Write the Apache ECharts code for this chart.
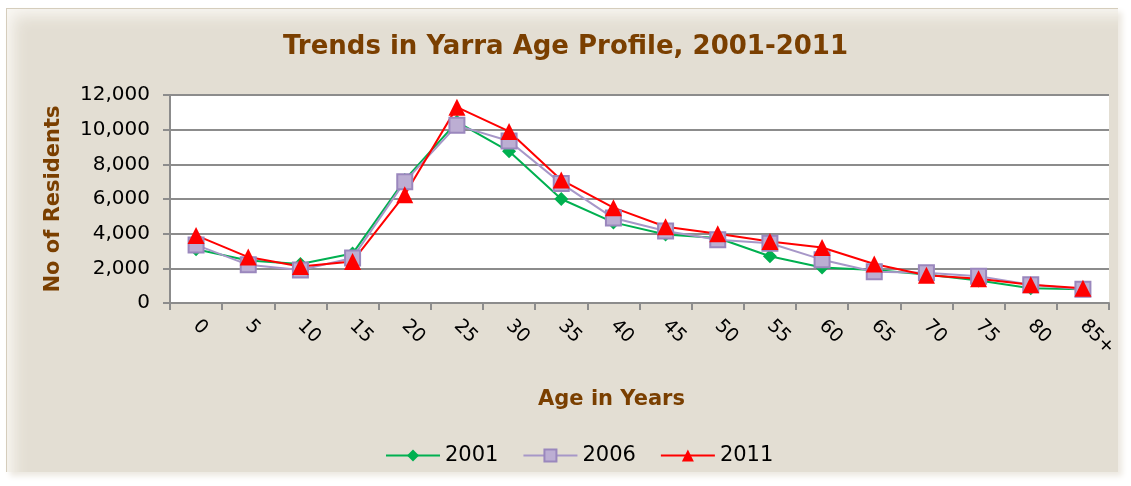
<!DOCTYPE html>
<html>
<head>
<meta charset="utf-8">
<script src="https://cdn.jsdelivr.net/npm/echarts@6/dist/echarts.min.js"></script>
<style>
  html, body { margin: 0; padding: 0; background: #fff; }
  #frame {
    position: absolute; left: 6px; top: 8px; width: 1111px; height: 463px;
    background: #e3ded3;
    border-left: 1px solid #d5cdbc; border-top: 1px solid #d5cdbc;
    box-shadow: inset 14px 14px 16px -8px #faf8f4, 4px 4px 6px #ece8e0;
  }
  #chart { position: absolute; left: 0; top: 0; width: 1131px; height: 486px; }
</style>
</head>
<body>
<div id="frame"></div>
<div id="chart"></div>
<script>
// age groups along the bottom
const ages = ['0', '5', '10', '15', '20', '25', '30', '35', '40', '45', '50', '55', '60', '65', '70', '75', '80', '85+']

// residents per age group
const y2001 = [3100, 2450, 2250, 2850, 7100, 10450, 8750, 6000, 4650, 3950, 3750, 2700, 2050, 1900, 1650, 1300, 850, 800]
const y2006 = [3350, 2200, 1900, 2600, 7000, 10250, 9350, 6900, 4900, 4150, 3650, 3450, 2500, 1800, 1750, 1550, 1050, 800]
const y2011 = [3900, 2650, 2100, 2400, 6250, 11300, 9900, 7100, 5500, 4400, 4000, 3550, 3200, 2250, 1600, 1400, 1050, 850]

const brown = '#7a3f00'
const font = 'DejaVu Sans'
const gridGrey = '#8c8c8c'

const myChart = echarts.init(document.getElementById('chart'))

myChart.setOption({
  backgroundColor: 'transparent',
  animation: false,
  textStyle: { fontFamily: font },
  title: {
    text: 'Trends in Yarra Age Profile, 2001-2011',
    left: 'center',
    top: 29,
    textStyle: { fontFamily: font, fontSize: 26, fontWeight: 'bold', color: brown }
  },
  legend: {
    bottom: 15,
    left: 380,
    itemWidth: 54,
    itemHeight: 15,
    itemGap: 24,
    textStyle: { fontFamily: font, fontSize: 21, color: '#000' },
    data: ['2001', '2006', '2011']
  },
  grid: {
    left: 170, right: 22, top: 95, bottom: 183,
    show: true, backgroundColor: '#fff', borderWidth: 0
  },
  xAxis: {
    type: 'category',
    data: ages,
    boundaryGap: true,
    name: 'Age in Years',
    nameLocation: 'middle',
    nameGap: 86,
    nameTextStyle: {
      fontFamily: font, fontSize: 21, fontWeight: 'bold', color: brown,
      padding: [0, 56, 0, 0]
    },
    axisLine: { lineStyle: { color: gridGrey, width: 2 } },
    axisTick: { show: true, interval: 0, length: 7, lineStyle: { color: gridGrey, width: 2 } },
    axisLabel: { interval: 0, rotate: -45, fontSize: 19, color: '#000', margin: 20 }
  },
  yAxis: {
    type: 'value',
    min: 0,
    max: 12000,
    interval: 2000,
    name: 'No of Residents',
    nameLocation: 'middle',
    nameGap: 106,
    nameTextStyle: { fontFamily: font, fontSize: 21, fontWeight: 'bold', color: brown },
    axisLine: { show: true, lineStyle: { color: gridGrey, width: 2 } },
    axisTick: { show: true, length: 7, lineStyle: { color: gridGrey, width: 2 } },
    axisLabel: {
      fontSize: 20, color: '#000', margin: 20,
      formatter: v => v.toLocaleString('en-US')
    },
    splitLine: { lineStyle: { color: gridGrey, width: 2 } }
  },
  series: [
    {
      name: '2001', type: 'line', data: y2001,
      symbol: 'diamond', symbolSize: 14,
      lineStyle: { color: '#00b050', width: 2 },
      itemStyle: { color: '#00b050' }
    },
    {
      name: '2006', type: 'line', data: y2006,
      symbol: 'rect', symbolSize: 15,
      lineStyle: { color: '#a797c8', width: 2 },
      itemStyle: { color: '#bcaed3', borderColor: '#9a87bd', borderWidth: 2 }
    },
    {
      name: '2011', type: 'line', data: y2011,
      symbol: 'triangle', symbolSize: 17,
      lineStyle: { color: '#ff0000', width: 2 },
      itemStyle: { color: '#ff0000' }
    }
  ]
})
</script>
</body>
</html>
